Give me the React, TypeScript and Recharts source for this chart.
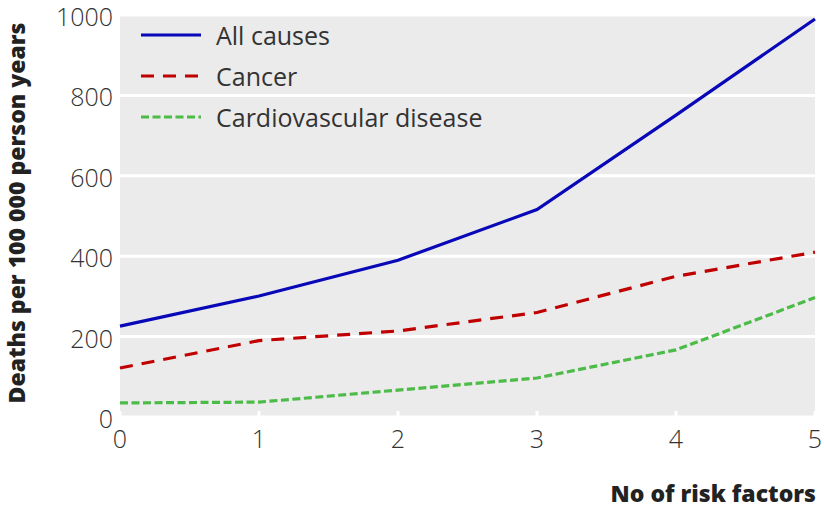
import React from 'react';
import { LineChart, Line, XAxis, YAxis, CartesianGrid } from 'recharts';

const xValues = [0, 1, 2, 3, 4, 5];
const allCauses = [226, 301, 390, 516, 751, 990];
const cancer = [122, 190, 214, 260, 350, 410];
const cardiovascular = [35, 37, 67, 97, 167, 297];
const yTicks = [0, 200, 400, 600, 800, 1000];
const xTicks = [0, 1, 2, 3, 4, 5];

const FONT = '"Open Sans", "Noto Sans", sans-serif';

const data = xValues.map((x, i) => ({
  x,
  all: allCauses[i],
  cancer: cancer[i],
  cvd: cardiovascular[i],
}));

const series = [
  { key: 'all', name: 'All causes', color: '#0808b8', dash: undefined as string | undefined },
  { key: 'cancer', name: 'Cancer', color: '#c00000', dash: '13 9' },
  { key: 'cvd', name: 'Cardiovascular disease', color: '#4cbb47', dash: '8 3.5' },
];

const YTick = (props: any) => {
  const { x, y, payload } = props;
  return (
    <text x={x} y={y + 1} textAnchor="end" dominantBaseline="central" fontFamily={FONT} fontSize={25} fontWeight={300} fill="#333">
      {payload.value}
    </text>
  );
};

const XTick = (props: any) => {
  const { x, y, payload } = props;
  return (
    <g>
      <line x1={x} x2={x} y1={y - 6} y2={y} stroke="#ffffff" strokeWidth={3} />
      <text x={x} y={y + 21} textAnchor="middle" dominantBaseline="central" fontFamily={FONT} fontSize={25} fontWeight={300} fill="#333">
        {payload.value}
      </text>
    </g>
  );
};

const YLabel = (props: any) => {
  const { viewBox } = props;
  const cx = viewBox.x + 16;
  const cy = viewBox.y + viewBox.height / 2 - 3;
  return (
    <text x={cx} y={cy} transform={`rotate(-90 ${cx} ${cy})`} textAnchor="middle" dominantBaseline="central" fontFamily={FONT} fontSize={23} fontWeight={800} fill="#222">
      Deaths per 100 000 person years
    </text>
  );
};

const XLabel = (props: any) => {
  const { viewBox } = props;
  return (
    <text x={viewBox.x + viewBox.width + 1} y={viewBox.y + 76} textAnchor="end" dominantBaseline="central" fontFamily={FONT} fontSize={23} fontWeight={800} fill="#222">
      No of risk factors
    </text>
  );
};

export default function App() {
  return (
    <div style={{ position: 'absolute', left: 0, top: 0, width: 824, height: 508, background: '#fff' }}>
      <LineChart width={824} height={508} data={data} margin={{ top: 15, right: 9, left: 0, bottom: 0 }}>
        <CartesianGrid vertical={false} stroke="#ffffff" strokeWidth={3} fill="#ebebeb" />
        <XAxis
          dataKey="x"
          type="number"
          domain={[0, 5]}
          ticks={xTicks}
          height={91}
          axisLine={false}
          tickLine={false}
          tickSize={0}
          tickMargin={0}
          tick={<XTick />}
          label={<XLabel />}
          interval={0}
        />
        <YAxis
          domain={[0, 1000]}
          ticks={yTicks}
          width={120}
          axisLine={false}
          tickLine={false}
          tickSize={0}
          tickMargin={7}
          tick={<YTick />}
          label={<YLabel />}
          interval={0}
        />
        {series.map((s) => (
          <Line
            key={s.key}
            dataKey={s.key}
            name={s.name}
            type="linear"
            stroke={s.color}
            strokeWidth={3.2}
            strokeDasharray={s.dash}
            dot={false}
            activeDot={false}
            isAnimationActive={false}
          />
        ))}
      </LineChart>
      <div style={{ position: 'absolute', left: 140, top: 14, fontFamily: FONT, fontSize: 25, color: '#333' }}>
        {series.map((s) => (
          <div key={s.key} style={{ height: 41, display: 'flex', alignItems: 'center' }}>
            <svg width={62} height={8} style={{ marginRight: 14 }}>
              <line x1={1} x2={61} y1={4} y2={4} stroke={s.color} strokeWidth={3.2} strokeDasharray={s.dash} />
            </svg>
            <span>{s.name}</span>
          </div>
        ))}
      </div>
    </div>
  );
}
